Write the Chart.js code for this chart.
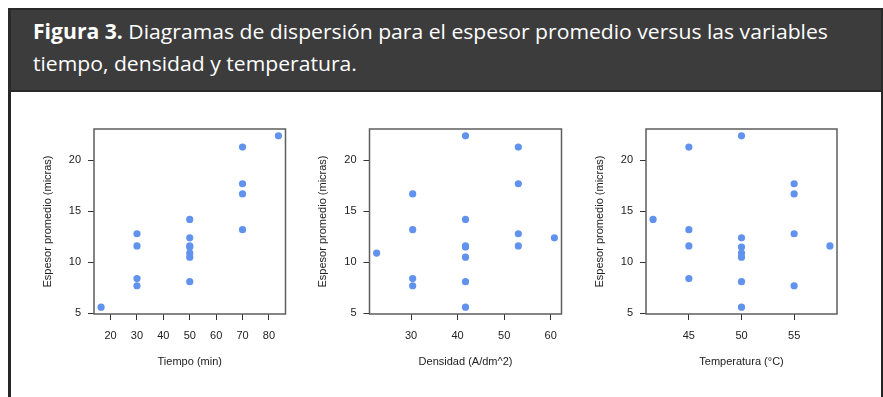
<!DOCTYPE html>
<html>
<head>
<meta charset="utf-8">
<script src="https://cdn.jsdelivr.net/npm/chart.js@4.4.0/dist/chart.umd.min.js"></script>
<style>
  html, body { margin: 0; padding: 0; background: #ffffff; width: 883px; height: 397px; overflow: hidden; }
  #frame { position: absolute; left: 8px; top: 8px; width: 875px; height: 400px; box-sizing: border-box;
           border-left: 3px solid #262626; border-right: 2px solid #262626; }
  #head { position: absolute; left: 8px; top: 8px; width: 875px; height: 84px; box-sizing: border-box;
          background: #3c3c3c; border: 2px solid #2a2a2a; border-right-width: 2px; border-left-width: 3px; }
  .cap { position: absolute; left: 33px; white-space: nowrap; color: #ffffff; font-family: "Open Sans", sans-serif;
         font-size: 20.5px; line-height: 20.5px; transform-origin: 0 0; }
  .cap b { font-weight: 700; }
  canvas { position: absolute; left: 0; top: 0; }
</style>
</head>
<body>
<div id="frame"></div>
<div id="head"></div>
<div class="cap" id="cap1" style="top:20.5px"><b>Figura 3.</b> Diagramas de dispersión para el espesor promedio versus las variables</div>
<div class="cap" id="cap2" style="top:53px">tiempo, densidad y temperatura.</div>
<canvas id="c1" width="883" height="397"></canvas>
<canvas id="c2" width="883" height="397"></canvas>
<canvas id="c3" width="883" height="397"></canvas>
<script>
// Runs of the experiment (central composite design): factor levels and response
const tiempo      = [30, 70, 30, 70, 30, 70, 30, 70, 16.4, 83.6, 50, 50, 50, 50, 50, 50, 50];
const densidad    = [30.35, 30.35, 53.05, 53.05, 30.35, 30.35, 53.05, 53.05, 41.7, 41.7, 22.6, 60.8, 41.7, 41.7, 41.7, 41.7, 41.7];
const temperatura = [45, 45, 45, 45, 55, 55, 55, 55, 50, 50, 50, 50, 41.6, 58.4, 50, 50, 50];
const espesor     = [8.4, 13.2, 11.6, 21.3, 7.7, 16.7, 12.8, 17.7, 5.6, 22.4, 10.9, 12.4, 14.2, 11.6, 11.5, 10.5, 8.1];

// Tick labels
const ticksY         = [5, 10, 15, 20];
const ticksTiempo    = [20, 30, 40, 50, 60, 70, 80];
const ticksDensidad  = [30, 40, 50, 60];
const ticksTemp      = [45, 50, 55];

const tituloY = 'Espesor promedio (micras)';

// Condense the caption so it fits the header band
(function () {
  const c1 = document.getElementById('cap1');
  const c2 = document.getElementById('cap2');
  const k = 795 / c1.scrollWidth;
  c1.style.transform = c2.style.transform = 'scaleX(' + k + ')';
})();

const FONT = { family: '"Liberation Sans", Arial, Helvetica, sans-serif', size: 11 };
const INK = '#222222';

// R-style axis range: data range extended by 4% on each side
function padRange(arr) {
  const lo = Math.min(...arr), hi = Math.max(...arr);
  const d = (hi - lo) * 0.04;
  return [lo - d, hi + d];
}

const boxPlugin = {
  id: 'box',
  afterDraw(chart) {
    const a = chart.chartArea, ctx = chart.ctx;
    ctx.save();
    ctx.strokeStyle = '#5e5e5e';
    ctx.lineWidth = 1.5;
    ctx.strokeRect(a.left, a.top, a.right - a.left, a.bottom - a.top);
    ctx.restore();
  }
};

function panel(id, xs, ticksX, tituloX, plotLeft, plotRight) {
  const [xmin, xmax] = padRange(xs);
  const [ymin, ymax] = padRange(espesor);
  const plotTop = 129, plotBottom = 314;
  const half = FONT.size * 1.2 / 2;
  const padLeft = plotLeft - 46.3 - half;
  const xTitleCenter = 362.2;
  const xScaleH = xTitleCenter + half - plotBottom;
  new Chart(document.getElementById(id), {
    type: 'scatter',
    data: {
      datasets: [{
        data: xs.map((x, i) => ({ x: x, y: espesor[i] })),
        backgroundColor: '#6092ee',
        borderWidth: 0,
        pointRadius: 3.6,
        pointHoverRadius: 3.6
      }]
    },
    options: {
      responsive: false,
      animation: false,
      events: [],
      layout: { padding: { left: padLeft, top: plotTop, right: 883 - plotRight, bottom: 397 - plotBottom - xScaleH } },
      plugins: { legend: { display: false }, tooltip: { enabled: false } },
      scales: {
        x: {
          type: 'linear', min: xmin, max: xmax,
          afterFit(s) { s.height = xScaleH; },
          afterBuildTicks(s) { s.ticks = ticksX.map(v => ({ value: v })); },
          grid: { display: true, drawOnChartArea: false, drawTicks: true, tickLength: 6, tickColor: '#333333', lineWidth: 1 },
          border: { display: false },
          ticks: { font: FONT, color: INK, padding: 9, maxRotation: 0, autoSkip: false },
          title: { display: true, text: tituloX, font: FONT, color: INK, padding: 0 }
        },
        y: {
          type: 'linear', min: ymin, max: ymax,
          afterFit(s) { s.width = plotLeft - padLeft; },
          afterBuildTicks(s) { s.ticks = ticksY.map(v => ({ value: v })); },
          grid: { display: true, drawOnChartArea: false, drawTicks: true, tickLength: 6, tickColor: '#333333', lineWidth: 1 },
          border: { display: false },
          ticks: { font: FONT, color: INK, padding: 7, autoSkip: false },
          title: { display: true, text: tituloY, font: FONT, color: INK, padding: 0 }
        }
      }
    },
    plugins: [boxPlugin]
  });
}

panel('c1', tiempo, ticksTiempo, 'Tiempo (min)', 94, 285.5);
panel('c2', densidad, ticksDensidad, 'Densidad (A/dm^2)', 369.5, 561.5);
panel('c3', temperatura, ticksTemp, 'Temperatura (°C)', 646, 837);
</script>
</body>
</html>
